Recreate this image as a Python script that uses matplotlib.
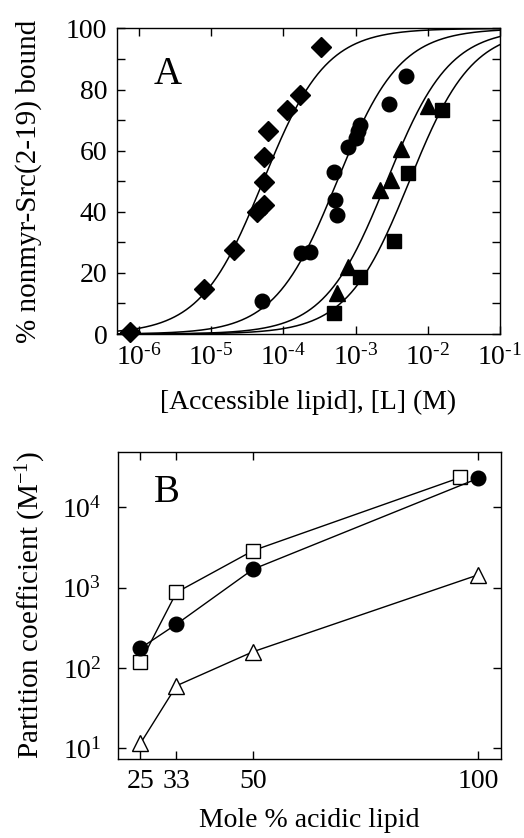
import numpy as np
import matplotlib
matplotlib.use("Agg")
import matplotlib.pyplot as plt
from matplotlib.ticker import LogLocator, MultipleLocator, NullLocator, FuncFormatter

plt.rcParams['font.family'] = ['Liberation Serif', 'DejaVu Serif']
plt.rcParams['mathtext.fontset'] = 'custom'
plt.rcParams['mathtext.rm'] = 'Liberation Serif'
plt.rcParams['mathtext.it'] = 'Liberation Serif:italic'
plt.rcParams['font.size'] = 14

# panel A: binding data, x = [L] (M), y = % bound
diamond_x = [7.6e-7, 8.1e-6, 2.1e-5, 4.4e-5, 5.5e-5, 5.4e-5, 5.5e-5, 6.2e-5, 1.12e-4, 1.7e-4, 3.3e-4]
diamond_y = [0.5, 14.7, 27.4, 39.9, 42.1, 49.9, 57.8, 66.5, 73.4, 78.1, 94.1]
circle_x = [5.1e-5, 1.78e-4, 2.34e-4, 5.1e-4, 5.25e-4, 5.6e-4, 7.8e-4, 1.0e-3, 1.1e-3, 1.15e-3, 2.95e-3, 5.0e-3]
circle_y = [10.9, 26.5, 26.8, 53.0, 43.9, 39.0, 61.2, 64.1, 66.3, 68.5, 75.2, 84.3]
triangle_x = [5.6e-4, 7.9e-4, 2.15e-3, 3.1e-3, 4.3e-3, 1.02e-2]
triangle_y = [13.4, 22.1, 47.2, 50.5, 60.6, 74.5]
square_x = [5.0e-4, 1.15e-3, 3.4e-3, 5.3e-3, 1.55e-2]
square_y = [6.9, 18.6, 30.6, 52.7, 73.4]

# fitted partition coefficients for the curves (M^-1)
fit_K = [1.9e4, 1.8e3, 3.7e2, 1.8e2]

# panel B: partition coefficient vs mole % acidic lipid
mole_pct = [25, 33, 50, 100]
square_mole = [25, 33, 50, 96]
K_square = [118, 870, 2880, 23400]
K_circle = [176, 350, 1690, 22900]
K_triangle = [11.5, 60, 159, 1440]


def pow10(v, pos):
    n = int(round(np.log10(v)))
    s = str(n).replace('-', '\u2010')
    return '10$^{' + s + '}$'


fig = plt.figure(figsize=(5.24, 8.38), dpi=100)

# ---- panel A ----
axA = fig.add_axes([0.2233, 0.6014, 0.731, 0.3646])
L = np.logspace(-6.3, -1, 400)
for K in fit_K:
    axA.plot(L, 100 * K * L / (1 + K * L), color='black', lw=1.1)

axA.plot(diamond_x, diamond_y, 'D', color='black', ms=10.5, clip_on=False)
axA.plot(circle_x, circle_y, 'o', color='black', ms=10.5)
axA.plot(triangle_x, triangle_y, '^', color='black', ms=11)
axA.plot(square_x, square_y, 's', color='black', ms=10)

axA.set_xscale('log')
axA.set_xlim(10 ** -6.3, 1e-1)
axA.set_ylim(0, 100)
axA.xaxis.set_major_locator(LogLocator(base=10, numticks=10))
axA.xaxis.set_minor_locator(NullLocator())
axA.xaxis.set_major_formatter(FuncFormatter(pow10))
axA.yaxis.set_major_locator(MultipleLocator(20))
axA.yaxis.set_minor_locator(MultipleLocator(10))
axA.tick_params(which='both', direction='in', top=True, right=True, labelsize=20, pad=7)
axA.tick_params(which='major', length=6, width=1)
axA.tick_params(which='minor', length=6, width=1)
axA.set_xlabel('[Accessible lipid], [L] (M)', fontsize=20, labelpad=14)
axA.set_ylabel('% nonmyr-Src(2-19) bound', fontsize=21, labelpad=17)
axA.text(0.095, 0.818, 'A', transform=axA.transAxes, fontsize=28, va='baseline')
for s in axA.spines.values():
    s.set_linewidth(1)

# ---- panel B ----
axB = fig.add_axes([0.225, 0.0943, 0.731, 0.3667])
axB.plot(square_mole, K_square, 's-', color='black', mfc='white', ms=10, lw=1, mew=1)
axB.plot(mole_pct, K_circle, 'o-', color='black', ms=10.5, lw=1)
axB.plot(mole_pct, K_triangle, '^-', color='black', mfc='white', ms=11, lw=1, mew=1)

axB.set_yscale('log')
axB.set_xlim(20, 105)
axB.set_ylim(10 ** 0.867, 10 ** 4.69)
axB.set_xticks(mole_pct)
axB.yaxis.set_major_locator(LogLocator(base=10, numticks=10))
axB.yaxis.set_minor_locator(NullLocator())
axB.yaxis.set_major_formatter(FuncFormatter(pow10))
axB.tick_params(which='both', direction='in', top=True, right=True, labelsize=20, pad=7)
axB.tick_params(axis='y', pad=12)
axB.tick_params(which='major', length=6, width=1)
axB.set_xlabel('Mole % acidic lipid', fontsize=20, labelpad=10)
axB.set_ylabel('Partition coefficient (M$^{-1}$)', fontsize=21, labelpad=10)
axB.text(0.095, 0.836, 'B', transform=axB.transAxes, fontsize=28, va='baseline')
for s in axB.spines.values():
    s.set_linewidth(1)

fig.savefig('out.png', dpi=100)
